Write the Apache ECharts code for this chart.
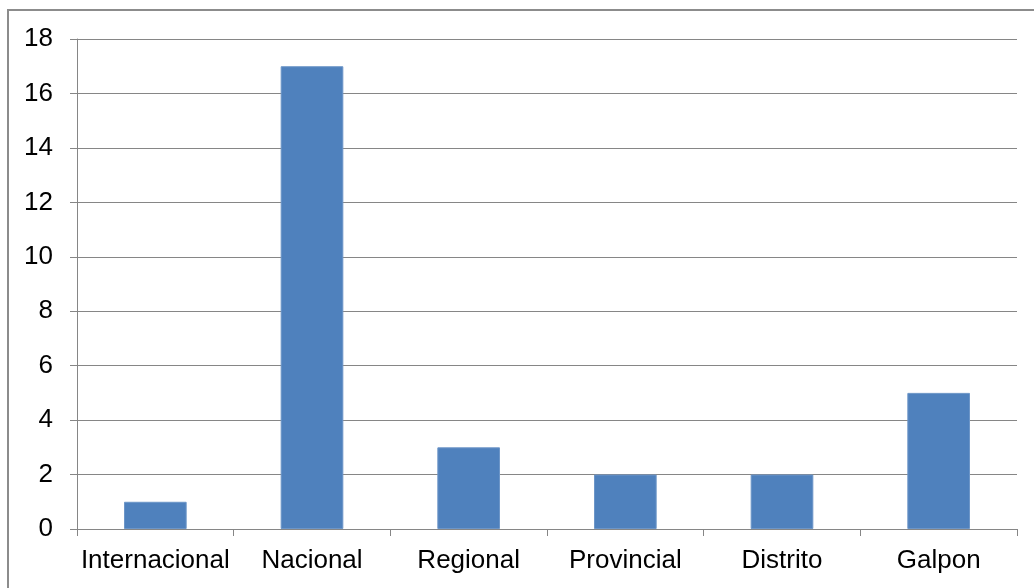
<!DOCTYPE html>
<html>
<head>
<meta charset="utf-8">
<script src="https://cdn.jsdelivr.net/npm/echarts@6/dist/echarts.min.js"></script>
<style>
  html, body { margin: 0; padding: 0; background: #fff; overflow: hidden; }
  #frame { position: absolute; left: 7px; top: 9px; width: 1040px; height: 600px;
           border: 2px solid #8c8c8c; box-sizing: border-box; }
  #main { position: absolute; left: 0; top: 0; width: 1034px; height: 588px; }
</style>
</head>
<body>
<div id="frame"></div>
<div id="main"></div>
<script>
// categorias y valores
var categories = ['Internacional', 'Nacional', 'Regional', 'Provincial', 'Distrito', 'Galpon'];
var values = [1, 17, 3, 2, 2, 5];
var yMin = 0, yMax = 18, yStep = 2;

var chart = echarts.init(document.getElementById('main'));
chart.setOption({
  animation: false,
  grid: { left: 77, right: 17, top: 39, bottom: 59, containLabel: false },
  xAxis: {
    type: 'category',
    data: categories,
    axisLine: { lineStyle: { color: '#868686', width: 1 } },
    axisTick: { show: true, length: 7, alignWithLabel: false, lineStyle: { color: '#868686' } },
    axisLabel: { color: '#000', fontFamily: 'Liberation Sans, Arial', fontSize: 26, margin: 19, interval: 0 }
  },
  yAxis: {
    type: 'value',
    min: yMin, max: yMax, interval: yStep,
    axisLine: { show: true, lineStyle: { color: '#868686', width: 1 } },
    axisTick: { show: true, length: 7, lineStyle: { color: '#868686' } },
    axisLabel: { color: '#000', fontFamily: 'Liberation Sans, Arial', fontSize: 26, margin: 24 },
    splitLine: { lineStyle: { color: '#868686', width: 1 } }
  },
  series: [{
    type: 'bar',
    data: values,
    barCategoryGap: '60%',
    itemStyle: { color: '#4f81bd', borderColor: '#6d96c8', borderWidth: 1 }
  }]
});
</script>
</body>
</html>
